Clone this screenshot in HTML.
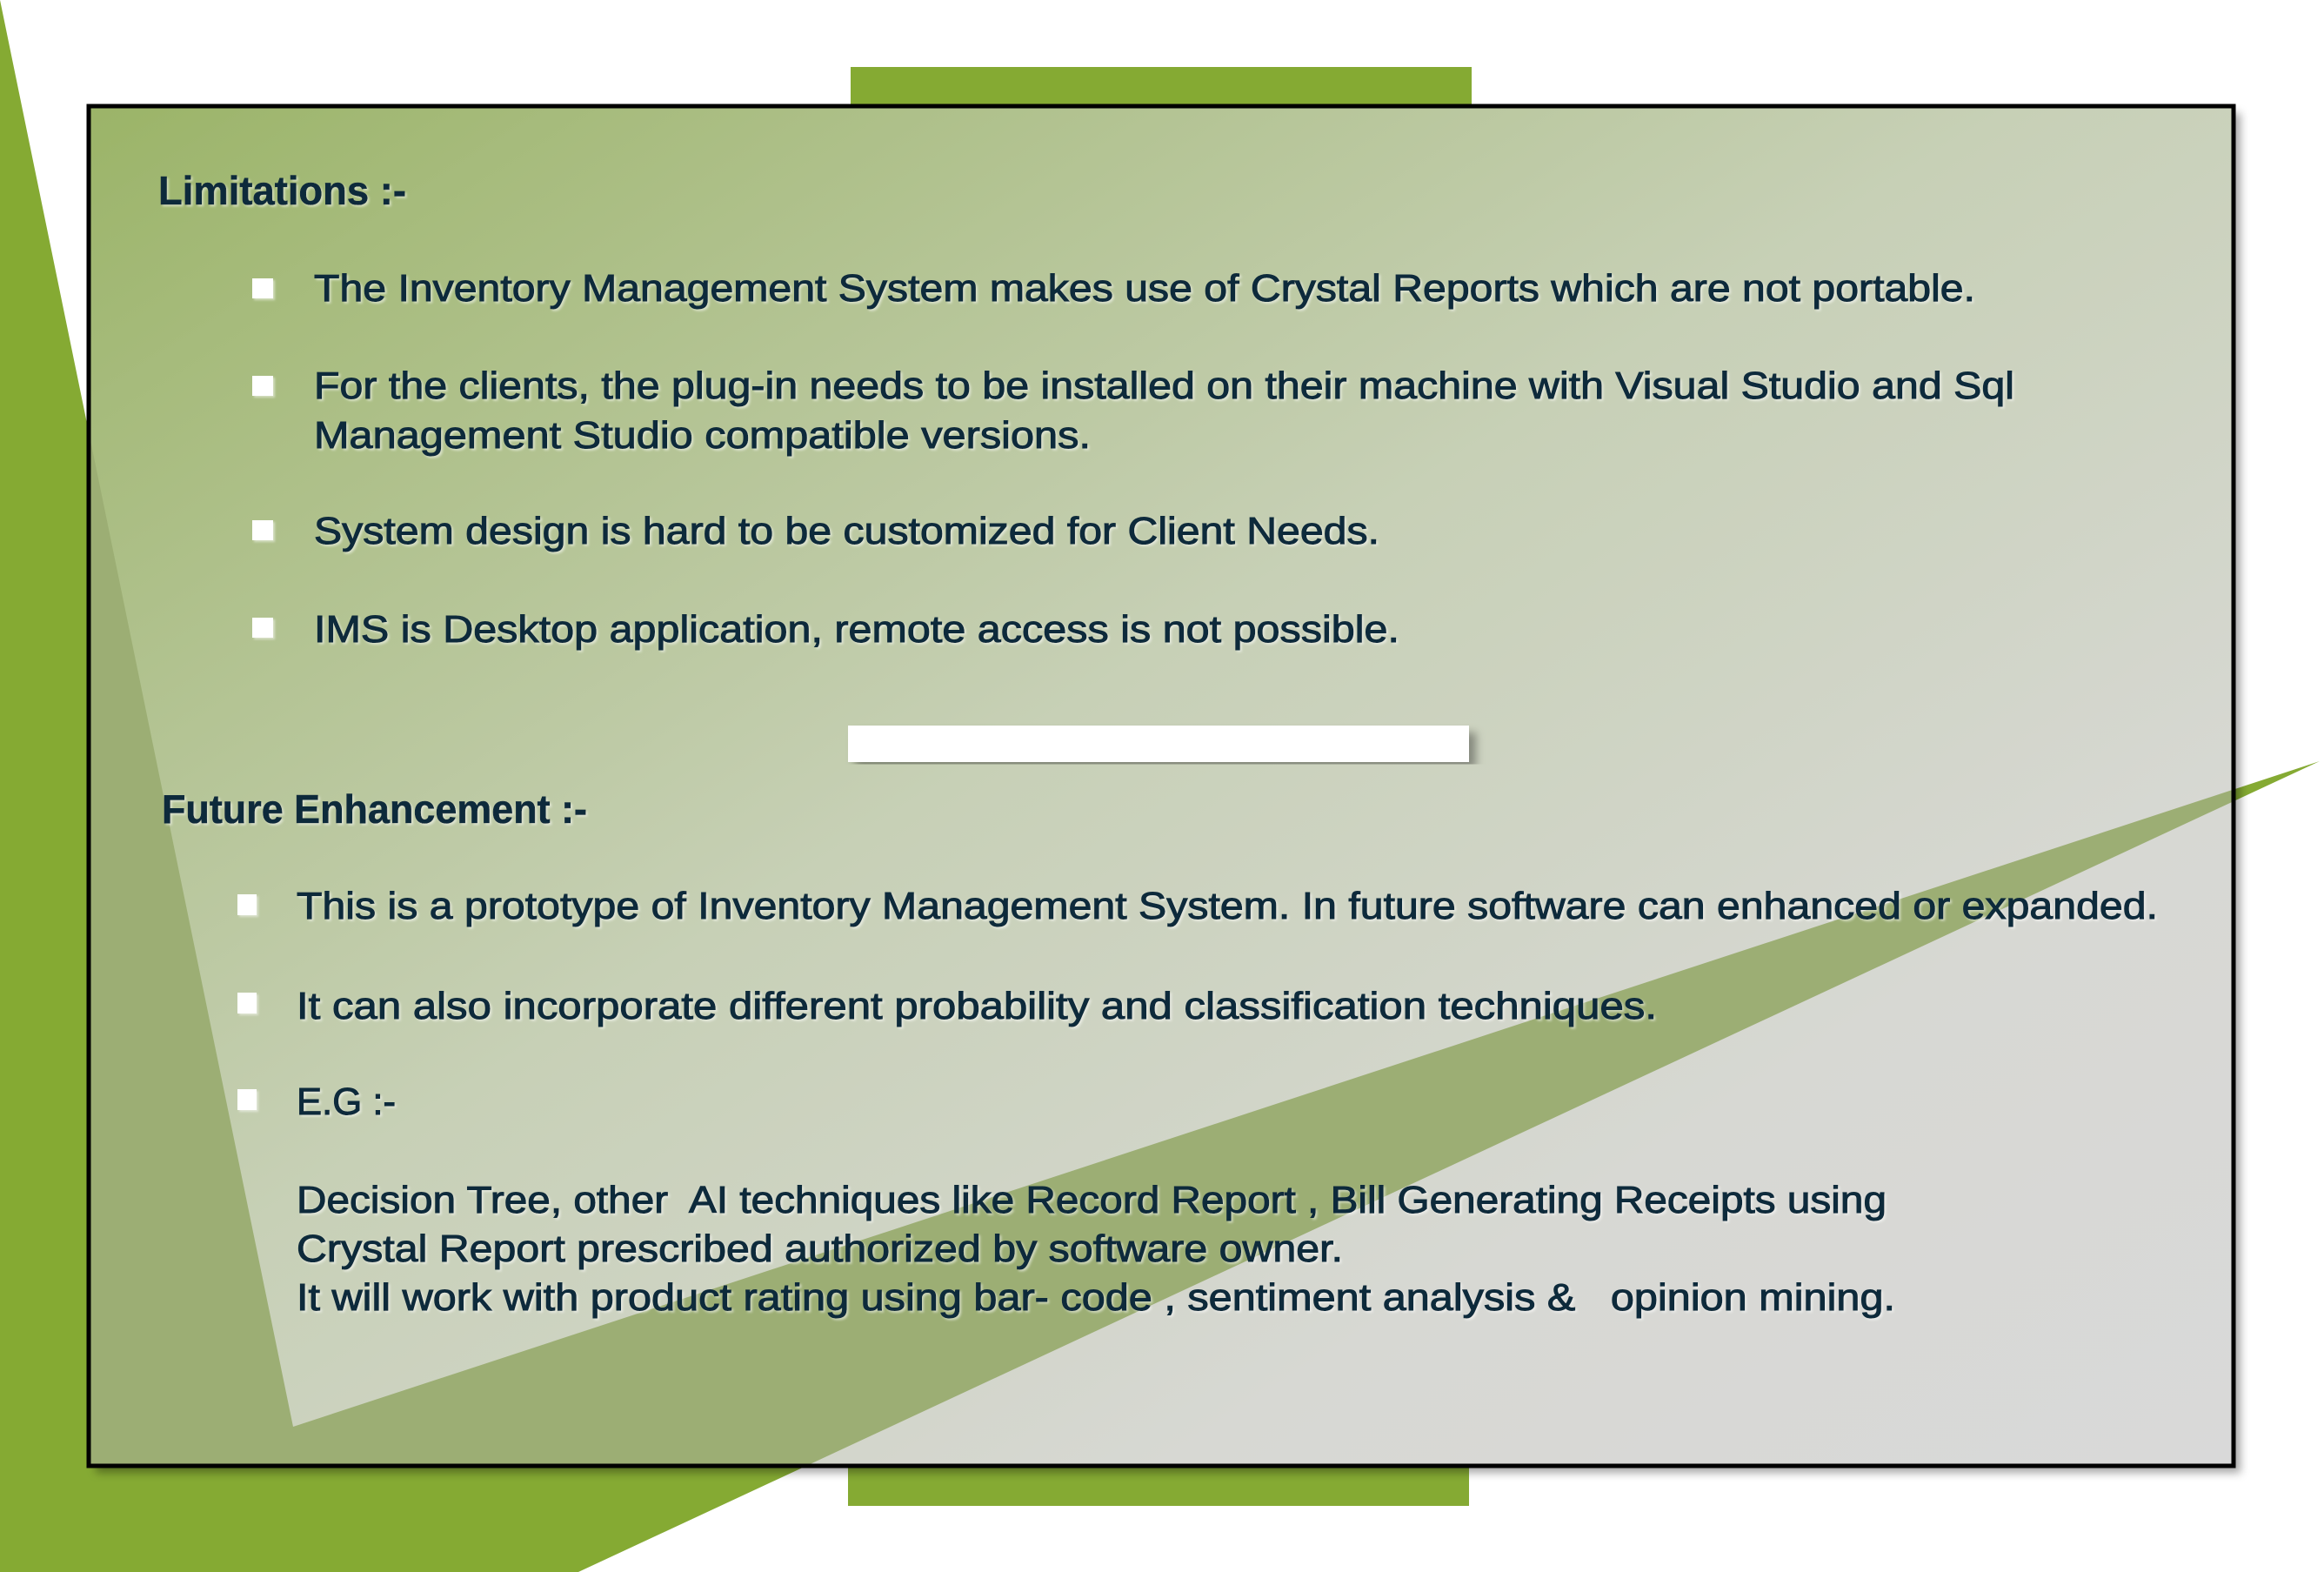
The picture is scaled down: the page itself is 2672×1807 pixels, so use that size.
<!DOCTYPE html>
<html><head><meta charset="utf-8"><style>
html,body{margin:0;padding:0;background:#fff;}
svg{display:block;}
text{font-family:"Liberation Sans",Arial,sans-serif;fill:#0f2b3b;}
</style></head><body>
<svg width="2672" height="1807" viewBox="0 0 2672 1807" xmlns="http://www.w3.org/2000/svg">
<defs>
<linearGradient id="bg" x1="0" y1="0" x2="1" y2="1" gradientUnits="objectBoundingBox">
<stop offset="0" stop-color="#9bb468"/>
<stop offset="0.45" stop-color="#c7d0b6"/>
<stop offset="0.75" stop-color="#d7d8d3"/>
<stop offset="1" stop-color="#d9d9d9"/>
</linearGradient>
<clipPath id="box"><rect x="102" y="122" width="2466" height="1563"/></clipPath>
<filter id="sh" x="-5%" y="-5%" width="110%" height="110%"><feDropShadow dx="8" dy="8" stdDeviation="5" flood-color="#000" flood-opacity="0.35"/></filter>
<filter id="ts"><feDropShadow dx="2" dy="2" stdDeviation="1.2" flood-color="#fff" flood-opacity="0.5"/></filter>
</defs>
<polygon points="0,0 337,1640 2667,875 665,1807 0,1807" fill="#85aa33"/>
<rect x="978" y="77" width="714" height="46" fill="#85aa33"/>
<rect x="975" y="1680" width="714" height="51" fill="#85aa33"/>
<rect x="102" y="122" width="2466" height="1563" fill="url(#bg)" filter="url(#sh)"/>
<polygon points="0,0 337,1640 2667,875 665,1807 0,1807" fill="#9cae74" clip-path="url(#box)"/>
<rect x="102" y="122" width="2466" height="1563" fill="none" stroke="#000" stroke-width="5"/>
<rect x="975" y="834" width="714" height="42" fill="#fff" filter="url(#sh)"/>
<g filter="url(#ts)">
<text x="182" y="235" font-size="46" font-weight="bold" stroke="#0f2b3b" stroke-width="0.6" textLength="285" lengthAdjust="spacingAndGlyphs">Limitations :-</text>
<g fill="#fff">
<rect x="290" y="320" width="24" height="23" fill="#fff"/>
<rect x="290" y="432" width="24" height="23" fill="#fff"/>
<rect x="290" y="598" width="24" height="23" fill="#fff"/>
<rect x="290" y="710" width="24" height="23" fill="#fff"/>
<rect x="273" y="1028" width="22" height="24" fill="#fff"/>
<rect x="273" y="1141" width="22" height="24" fill="#fff"/>
<rect x="273" y="1252" width="22" height="24" fill="#fff"/>
</g>
<g font-size="44" stroke="#0f2b3b" stroke-width="1.1">
<text x="361" y="346" textLength="1910" lengthAdjust="spacingAndGlyphs">The Inventory Management System makes use of Crystal Reports which are not portable.</text>
<text x="361" y="458" textLength="1955" lengthAdjust="spacingAndGlyphs">For the clients, the plug-in needs to be installed on their machine with Visual Studio and Sql</text>
<text x="361" y="515" textLength="893" lengthAdjust="spacingAndGlyphs">Management Studio compatible versions.</text>
<text x="361" y="625" textLength="1225" lengthAdjust="spacingAndGlyphs">System design is hard to be customized for Client Needs.</text>
<text x="361" y="738" textLength="1248" lengthAdjust="spacingAndGlyphs">IMS is Desktop application, remote access is not possible.</text>
</g>
<text x="186" y="946" font-size="46" font-weight="bold" stroke="#0f2b3b" stroke-width="0.6" textLength="489" lengthAdjust="spacingAndGlyphs">Future Enhancement :-</text>
<g font-size="44" stroke="#0f2b3b" stroke-width="1.1">
<text x="341" y="1056" textLength="2140" lengthAdjust="spacingAndGlyphs">This is a prototype of Inventory Management System. In future software can enhanced or expanded.</text>
<text x="341" y="1171" textLength="1564" lengthAdjust="spacingAndGlyphs">It can also incorporate different probability and classification techniques.</text>
<text x="341" y="1281" textLength="114" lengthAdjust="spacingAndGlyphs">E.G :-</text>
<text x="341" y="1394" textLength="1828" lengthAdjust="spacingAndGlyphs" xml:space="preserve">Decision Tree, other  AI techniques like Record Report , Bill Generating Receipts using</text>
<text x="341" y="1450" textLength="1203" lengthAdjust="spacingAndGlyphs">Crystal Report prescribed authorized by software owner.</text>
<text x="341" y="1506" textLength="1838" lengthAdjust="spacingAndGlyphs" xml:space="preserve">It will work with product rating using bar- code , sentiment analysis &amp;   opinion mining.</text>
</g>
</g>
</svg>
</body></html>
